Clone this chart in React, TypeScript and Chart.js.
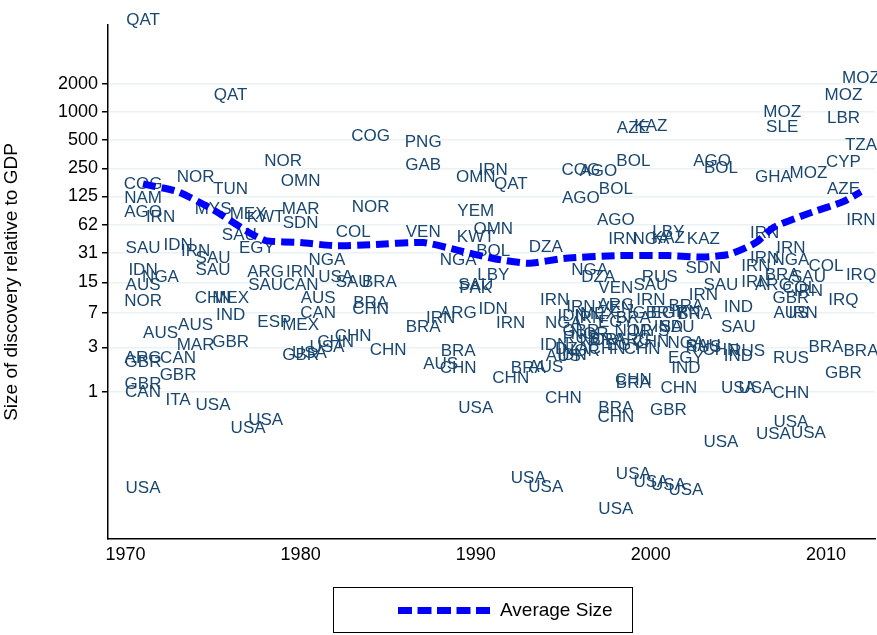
import { useEffect, useRef } from 'react'
import Chart from 'chart.js/auto'

// discoveries: country code, year, size relative to GDP
const codes = [
  'QAT','QAT','COG','PNG','GAB','NOR','OMN','NOR','TUN','NOR','COG','NAM','AGO','IRN','MYS','MEX','KWT','MAR','SDN','SAU',
  'EGY','IDN','SAU','IRN','SAU','IDN','NGA','AUS','SAU','ARG','SAU','IRN','CAN','AUS','CAN','MEX','ESP','IND','NOR','MEX',
  'CHN','AUS','AUS','GBR','MAR','ARG','GBR','CAN','GBR','GBR','CAN','ITA','USA','USA','USA','USA','GBR','USA','CHN','CHN',
  'USA','COL','NGA','USA','SAU','BRA','BRA','CHN','CHN','BRA','IRN','ARG','IDN','IRN','BRA','AUS','CHN','CHN','BRA','AUS',
  'CHN','USA','USA','USA','VEN','KWT','YEM','OMN','OMN','IRN','QAT','DZA','BOL','NGA','LBY','SAU','PAK','IRN','NGA','IDN',
  'COG','AGO','AGO','BOL','BOL','AGO','AZE','KAZ','IRN','NGA','LBY','KAZ','SDN','AGO','BOL','GHA','MOZ','CYP','TZA','MOZ',
  'SLE','LBR','MOZ','MOZ','AZE','IRN','IRN','IRN','IRN','IND','SAU','BRA','COL','AUS','IRN','IRQ','IRQ','BRA','BRA','GBR',
  'RUS','USA','CHN','USA','USA','USA','USA','CHN','IND','GBR','CHN','BRA','CHN','BRA','USA','USA','USA','USA','USA','SAU',
  'RUS','IRN','GBR','EGY','NOR','SAU','BRA','IRN','SAU','NGA','DZA','IRN','IDN','NOR','BRA','EGY','CHN','RUS','AUS','IND',
  'MEX','ARG','BRA','CHN','IND','IRN','RUS','CHN','GBR','NOR','VEN','ARG','MYS','EGY','NGA','SAU','IRN','CHN','DZA','VEN',
  'BRA','USA','IRN','ARG','GBR','IRN','NGA','SAU','EGY','IRN','RUS','NOR','IDN','COL','KAZ'
]
const years = [
  1971,1976,1984,1987,1987,1979,1980,1984,1976,1974,1971,1971,1971,1972,1975,1977,1978,1980,1980,1976.5,
  1977.5,1973,1971,1974,1975,1971,1972,1971,1975,1978,1978,1980,1980,1981,1981,1980,1978.5,1976,1971,1976,
  1975,1972,1974,1976,1974,1971,1971,1973,1973,1971,1971,1973,1975,1978,1977,1971,1980,1980.5,1982,1983,
  1981.5,1983,1981.5,1982,1983,1984.5,1984,1984,1985,1987,1988,1989,1991,1992,1989,1988,1989,1992,1993,1994,
  1995,1990,1993,1994,1987,1990,1990,1991,1990,1991,1992,1994,1991,1989,1991,1990,1990,1994.5,1995,1994.5,
  1996,1997,1996,1999,1998,1998,1999,2000,1998.4,2000,2001,2003,2003,2003.5,2004,2007,2009,2011,2012,2007.5,
  2007.5,2011,2012,2011,2011,2012,2006.5,2008,2006.5,2005,2005,2007.5,2008.5,2008,2008.7,2011,2012,2010,2012,2011,
  2008,2006,2008,2008,2007,2009,2004,2001.6,2002,2001,1998,1998,1999,1999,1999,2000,2001,2002,1998,2000,
  2000.5,2000,2000,1998,1999,2001.5,2002.5,2003,2004,1996.5,1997,1996,1995.5,1996.5,1997.5,1998.5,1999.5,1996,1995,2005,
  1997,1998,1999,2000,2001,2002,2003,2004,1996,1997,1998,1999,2000,2001,2002,2003,1996.5,1997.5,1995.5,1998,
  2002,2005,2006,2007,2008,2009,2008,2009,2002,2006,2005.5,1996,1995.5,2010,2001
]
const values = [
  9700,1500,550,470,270,300,180,95,150,200,170,120,85,75,90,80,75,90,65,48,
  35,37,35,32,27,20,17,14,20,19,14,19,14,10,7,5.2,5.6,6.7,9.5,10,
  10,4.3,5.2,3.4,3.2,2.3,2.1,2.3,1.5,1.2,1.0,0.82,0.72,0.5,0.41,0.094,2.5,2.6,3.4,4,
  3.0,52,26,17,15,15,9,7.7,2.8,5,6.2,7,7.7,5.5,2.7,2,1.8,1.4,1.8,1.85,
  0.86,0.67,0.12,0.095,52,45,87,56,200,240,170,36,32,26,18,14,13,9.6,5.5,3.2,
  240,230,120,300,150,70,670,700,43,43,52,43,21,300,250,200,220,290,440,1000,
  680,860,2300,1500,150,70,50,35,27,8,5,18,13,7,7,9.7,18,3,2.7,1.6,
  2.3,1.1,0.98,0.47,0.35,0.36,0.29,1.1,1.8,0.64,0.53,0.67,1.35,1.25,0.13,0.107,0.1,0.089,0.055,14,
  17,9.6,7,5.6,4.5,5,6.8,11,14,20,17,8,6.5,4.2,3.6,3.2,2.9,3.8,2.4,2.4,
  6.8,8.5,6.2,3.4,5,7.2,3,2.8,4.5,3.6,7.8,3.6,4.5,7,3.3,3.1,6.2,2.9,2.9,13,
  8.2,1.1,15,14,10,12,26,17,2.3,22,2.7,2.7,2.5,22,44
]

// average discovery size
const avgYears = [1971,1973,1975,1977,1978,1980,1982,1984,1987,1989,1991,1993,1995,1998,2001,2003,2004.5,2006,2007,2009,2011,2012]
const avgValues = [170,140,90,52,42,40,37,38,40,33,27,24,27,29,29,28,30,40,58,82,110,140]

const yTicks = [1, 3, 7, 15, 31, 62, 125, 250, 500, 1000, 2000]
const xTicks = [1970, 1980, 1990, 2000, 2010]

const labelPlugin = {
  id: 'codeLabels',
  beforeDatasetsDraw(chart: any) {
    const ctx = chart.ctx
    const meta = chart.getDatasetMeta(0)
    ctx.save()
    ctx.font = '17px "Liberation Sans", Arial, sans-serif'
    ctx.fillStyle = '#1a476f'
    ctx.textAlign = 'center'
    ctx.textBaseline = 'middle'
    meta.data.forEach((pt: any, i: number) => {
      ctx.fillText(codes[i], pt.x, pt.y)
    })
    ctx.restore()
  }
}

export default function App() {
  const chartRef = useRef<HTMLCanvasElement>(null)

  useEffect(() => {
    if (!chartRef.current) return
    const font = { family: '"Liberation Sans", Arial, sans-serif', size: 18 }

    const chart = new Chart(chartRef.current, {
      type: 'scatter',
      data: {
        datasets: [
          {
            data: years.map((y, i) => ({ x: y, y: values[i] })),
            pointRadius: 0,
            showLine: false,
            clip: false as any
          },
          {
            data: avgYears.map((y, i) => ({ x: y, y: avgValues[i] })),
            showLine: true,
            borderColor: '#0000ff',
            borderWidth: 7,
            borderDash: [13, 6],
            pointRadius: 0,
            tension: 0.2,
            fill: false
          }
        ]
      },
      plugins: [labelPlugin],
      options: {
        animation: false,
        responsive: false,
        layout: { padding: { top: 25, right: 2, left: 0, bottom: 0 } },
        plugins: { legend: { display: false }, tooltip: { enabled: false } },
        scales: {
          x: {
            type: 'linear',
            min: 1969,
            max: 2012.8,
            afterBuildTicks: (s: any) => { s.ticks = xTicks.map(v => ({ value: v })) },
            afterFit: (s: any) => { s.height = 96 },
            ticks: { color: '#000', font, padding: 0, callback: (v: any) => String(v) },
            grid: { display: false, drawTicks: true, tickLength: 5, tickColor: '#000' },
            border: { color: '#000', width: 1.5 }
          },
          y: {
            type: 'logarithmic',
            min: 0.0266,
            max: 8590,
            afterBuildTicks: (s: any) => { s.ticks = yTicks.map(v => ({ value: v })) },
            afterFit: (s: any) => { s.width = 108 },
            ticks: { color: '#000', font, padding: 4, callback: (v: any) => String(v) },
            grid: { color: '#eaf2f3', lineWidth: 1.5, tickColor: '#000', tickLength: 6 },
            border: { color: '#000', width: 1.5 },
            title: { display: true, text: 'Size of discovery relative to GDP', color: '#000', font: { ...font, size: 19 }, padding: 0 }
          }
        }
      }
    })
    return () => chart.destroy()
  }, [])

  return (
    <div style={{ position: 'fixed', left: 0, top: 0, width: 877, height: 635, background: '#fff', fontFamily: '"Liberation Sans", Arial, sans-serif' }}>
      <canvas ref={chartRef} width={877} height={635} />
      <div style={{ position: 'absolute', left: 333, top: 587, width: 300, height: 46, border: '1px solid #000', boxSizing: 'border-box', display: 'flex', alignItems: 'center' }}>
        <div style={{ marginLeft: 64, width: 92, borderTop: '7px dashed #0000ff' }} />
        <span style={{ marginLeft: 10, fontSize: 19 }}>Average Size</span>
      </div>
    </div>
  )
}
